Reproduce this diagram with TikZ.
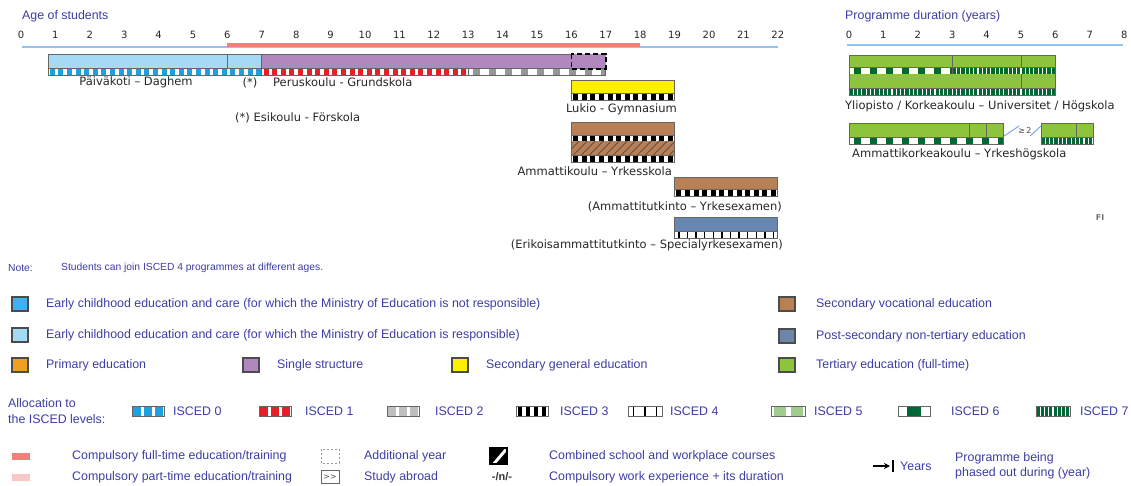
\documentclass[tikz,border=0pt]{standalone}
\usepackage{fontspec}
\setmainfont{Liberation Sans}
\newfontfamily\verd{DejaVu Sans}
\usetikzlibrary{arrows.meta}

\definecolor{txtblue}{RGB}{60,60,165}
\definecolor{axisblue}{RGB}{150,195,235}
\definecolor{compred}{RGB}{240,128,120}
\definecolor{comppink}{RGB}{248,200,200}
\definecolor{ececnot}{RGB}{64,176,240}
\definecolor{ecec}{RGB}{164,218,244}
\definecolor{primary}{RGB}{240,160,32}
\definecolor{single}{RGB}{176,136,190}
\definecolor{secgen}{RGB}{255,240,0}
\definecolor{secvoc}{RGB}{184,128,84}
\definecolor{postsec}{RGB}{104,134,178}
\definecolor{tertiary}{RGB}{140,196,60}
\definecolor{isc0}{RGB}{28,160,224}
\definecolor{isc1}{RGB}{232,30,40}
\definecolor{isc2}{RGB}{150,150,150}
\definecolor{isc5}{RGB}{160,205,140}
\definecolor{isc6}{RGB}{0,104,55}

% age and duration scales (1 unit = 1 px)
\newcommand\ya[1]{21+34.4*#1}
\newcommand\du[1]{849+34.4*#1}

% ISCED strip: left, right, top, bottom, colour, period, block width
\newcommand\isced[7]{%
  \begin{scope}
    \clip ({#1},#3) rectangle ({#2},#4);
    \fill[white] ({#1},#3) rectangle ({#2},#4);
    \pgfmathtruncatemacro\nblk{((#2)-(#1))/(#6)}
    \foreach \k in {0,...,\nblk}
      \fill[#5] ({#1+(\k+0.5)*(#6)-(#7)/2},#3) rectangle ++(#7,{#4-#3});
  \end{scope}
  \draw[edge] ({#1},#3) rectangle ({#2},#4);}

\begin{document}
\begin{tikzpicture}[x=1pt, y=-1pt,
    edge/.style={draw=black!60, line width=0.8pt},
    key/.style={draw=black!70, line width=1.2pt},
    lbl/.style={inner sep=0pt, text=black!85, font=\verd\fontsize{11.5}{13}\selectfont},
    tick/.style={inner sep=0pt, text=black!85, font=\verd\fontsize{10}{12}\selectfont},
    leg/.style={inner sep=0pt, anchor=west, text=txtblue, font=\fontsize{12.4}{14}\selectfont},
    small/.style={inner sep=0pt, anchor=west, text=txtblue, font=\fontsize{10.3}{12}\selectfont}]
  \useasboundingbox (0,0) rectangle (1131,485);

  % Age axis
  \node[leg] (agetitle) at (22,16) {Age of students};
  \foreach \a in {0,...,22}
    \node[tick] (age\a) at ({\ya{\a}},35) {\a};
  \draw[axisblue, line width=1.5pt] (22,47) -- ({\ya{22}},47);
  \draw[compred, line width=3.5pt] ({\ya{6}},45) -- ({\ya{18}},45);

  % Paivakoti + Esikoulu
  \fill[ecec] (48,54) rectangle ({\ya{7}},68);
  \draw[edge] ({\ya{6}},54) -- ({\ya{6}},68);
  \isced{48}{\ya{7}}{68}{75}{isc0}{8.6}{5}
  \draw[edge] (48,54) rectangle ({\ya{7}},75);

  % Peruskoulu
  \fill[single] ({\ya{7}},54) rectangle ({\ya{17}},68);
  \isced{\ya{7}}{\ya{13}}{68}{75}{isc1}{8.6}{5}
  \isced{\ya{13}}{\ya{17}}{68}{75}{isc2}{16}{7}
  \draw[edge] ({\ya{16}},54) -- ({\ya{7}},54) -- ({\ya{7}},75) -- ({\ya{17}},75);
  \draw[black, line width=1.6pt, dash pattern=on 5pt off 3pt] ({\ya{16}},54) rectangle ({\ya{17}},69);

  \node[lbl] (daghem) at (136,82) {Päiväkoti – Daghem};
  \node[lbl] (star) at (250,83) {(*)};
  \node[lbl, anchor=west] (grund) at (273,82) {Peruskoulu - Grundskola};
  \node[lbl, anchor=west] (forskola) at (235,118) {(*) Esikoulu - Förskola};

  % Lukio
  \fill[secgen] ({\ya{16}},80) rectangle ({\ya{19}},93);
  \isced{\ya{16}}{\ya{19}}{93}{100}{black}{8.6}{5}
  \draw[edge] ({\ya{16}},80) rectangle ({\ya{19}},100);
  \node[lbl, anchor=east] (lukio) at (677,109) {Lukio - Gymnasium};

  % Ammattikoulu
  \fill[secvoc] ({\ya{16}},122) rectangle ({\ya{19}},135);
  \isced{\ya{16}}{\ya{19}}{135}{141}{black}{8.6}{5}
  \begin{scope}
    \clip ({\ya{16}},141) rectangle ({\ya{19}},155);
    \fill[secvoc] ({\ya{16}},141) rectangle ({\ya{19}},155);
    \foreach \h in {0,...,14}
      \draw[black!70, line width=0.6pt] ({\ya{16}+\h*8-6},155) -- ++(14,-14);
  \end{scope}
  \isced{\ya{16}}{\ya{19}}{155}{162}{black}{8.6}{5}
  \draw[edge] ({\ya{16}},122) rectangle ({\ya{19}},162);
  \node[lbl, anchor=east] (yrkes) at (672,171) {Ammattikoulu – Yrkesskola};

  % Ammattitutkinto
  \fill[secvoc] ({\ya{19}},177) rectangle ({\ya{22}},189);
  \isced{\ya{19}}{\ya{22}}{189}{196}{black}{8.6}{5}
  \draw[edge] ({\ya{19}},177) rectangle ({\ya{22}},196);
  \node[lbl, anchor=east] (yexam) at (782,207) {(Ammattitutkinto – Yrkesexamen)};

  % Erikoisammattitutkinto
  \fill[postsec] ({\ya{19}},217) rectangle ({\ya{22}},231);
  \isced{\ya{19}}{\ya{22}}{231}{238}{black}{8.6}{1.3}
  \draw[edge] ({\ya{19}},217) rectangle ({\ya{22}},238);
  \node[lbl, anchor=east] (syexam) at (783,245) {(Erikoisammattitutkinto – Specialyrkesexamen)};

  % Programme duration axis
  \node[leg] (durtitle) at (845,16) {Programme duration (years)};
  \foreach \d in {0,...,8}
    \node[tick] (dur\d) at ({\du{\d}},35) {\d};
  \draw[axisblue, line width=1.5pt] (847,45) -- (1123,45);

  % Yliopisto
  \fill[tertiary] ({\du{0}},55) rectangle ({\du{6}},67);
  \draw[edge] ({\du{3}},55) -- ({\du{3}},67) ({\du{5}},55) -- ({\du{5}},67);
  \isced{\du{0}}{\du{3}}{67}{74}{isc6}{16}{7}
  \isced{\du{3}}{\du{6}}{67}{74}{isc6}{4.3}{3.2}
  \fill[tertiary] ({\du{0}},74) rectangle ({\du{6}},88);
  \draw[edge] ({\du{5}},74) -- ({\du{5}},88);
  \isced{\du{0}}{\du{6}}{88}{95}{isc6}{4.3}{3.2}
  \draw[edge] ({\du{0}},55) rectangle ({\du{6}},95);
  \node[lbl, anchor=west] (univ) at (845,106) {Yliopisto / Korkeakoulu – Universitet / Högskola};

  % Ammattikorkeakoulu
  \fill[tertiary] ({\du{0}},123) rectangle ({\du{4.5}},137);
  \draw[edge] ({\du{3.5}},123) -- ({\du{3.5}},137) ({\du{4}},123) -- ({\du{4}},137);
  \isced{\du{0}}{\du{4.5}}{137}{144}{isc6}{16}{7}
  \draw[edge] ({\du{0}},123) rectangle ({\du{4.5}},144);
  \fill[tertiary] (1041,123) rectangle (1093,137);
  \draw[edge] (1076,123) -- (1076,137);
  \isced{1041}{1093}{137}{144}{isc6}{4.3}{3.2}
  \draw[edge] (1041,123) rectangle (1093,144);
  \draw[axisblue!80!blue, line width=0.9pt] (1004,136) -- (1019,126) (1030,136) -- (1041,126);
  \node[inner sep=0pt, text=black!70, font=\verd\fontsize{8}{8}\selectfont] (geq) at (1025,131) {≥\,2};
  \node[lbl, anchor=west] (amk) at (852,154) {Ammattikorkeakoulu – Yrkeshögskola};

  \node[inner sep=0pt, text=black!55, font=\verd\bfseries\fontsize{8}{8}\selectfont] (fi) at (1100,218) {FI};

  % Note
  \node[small] (note) at (8,268) {Note:};
  \node[small] (notetext) at (61,268) {Students can join ISCED 4 programmes at different ages.};

  % Legend: colours
  \filldraw[key, fill=ececnot] (12,297) rectangle (28,311);
  \node[leg] (lececnot) at (46,304) {Early childhood education and care (for which the Ministry of Education is not responsible)};
  \filldraw[key, fill=ecec] (12,328) rectangle (28,342);
  \node[leg] (lecec) at (46,335) {Early childhood education and care (for which the Ministry of Education is responsible)};
  \filldraw[key, fill=primary] (12,358) rectangle (28,372);
  \node[leg] (lprim) at (46,365) {Primary education};
  \filldraw[key, fill=single] (243,358) rectangle (259,372);
  \node[leg] (lsingle) at (277,365) {Single structure};
  \filldraw[key, fill=secgen] (452,358) rectangle (468,372);
  \node[leg] (lsecgen) at (486,365) {Secondary general education};
  \filldraw[key, fill=secvoc] (779,297) rectangle (795,311);
  \node[leg] (lsecvoc) at (816,304) {Secondary vocational education};
  \filldraw[key, fill=postsec!80!gray] (779,329) rectangle (795,343);
  \node[leg] (lpostsec) at (816,336) {Post-secondary non-tertiary education};
  \filldraw[key, fill=tertiary] (779,358) rectangle (795,372);
  \node[leg] (ltert) at (816,365) {Tertiary education (full-time)};

  % Legend: ISCED levels
  \node[leg] (alloc1) at (8,403) {Allocation to};
  \node[leg] (alloc2) at (8,419) {the ISCED levels:};
  \isced{132}{164}{406}{416}{isc0}{10.7}{8}
  \node[leg] (lisc0) at (173,411) {ISCED 0};
  \isced{259}{291}{406}{416}{isc1}{10.7}{8}
  \node[leg] (lisc1) at (305,411) {ISCED 1};
  \isced{387}{419}{406}{416}{black!25}{10.7}{8}
  \node[leg] (lisc2) at (435,411) {ISCED 2};
  \isced{516}{548}{406}{416}{black}{8}{3.5}
  \node[leg] (lisc3) at (560,411) {ISCED 3};
  \isced{628}{662}{406}{416}{black}{11.3}{1.5}
  \node[leg] (lisc4) at (670,411) {ISCED 4};
  \isced{771}{805}{406}{416}{isc5}{17}{12}
  \node[leg] (lisc5) at (814,411) {ISCED 5};
  \isced{898}{930}{406}{416}{isc6}{32}{14}
  \node[leg] (lisc6) at (951,411) {ISCED 6};
  \isced{1036}{1070}{406}{416}{isc6}{4.25}{3.2}
  \node[leg] (lisc7) at (1080,411) {ISCED 7};

  % Legend: other symbols
  \fill[compred] (12,453) rectangle (30,460);
  \node[leg] (lfull) at (72,456) {Compulsory full-time education/training};
  \fill[comppink] (12,474) rectangle (30,481);
  \node[leg] (lpart) at (72,477) {Compulsory part-time education/training};
  \draw[black!40, line width=0.8pt, dash pattern=on 2pt off 2pt] (321,449) rectangle (339,463);
  \node[leg] (laddyear) at (364,456) {Additional year};
  \node[draw=black!60, line width=0.8pt, inner sep=0pt, minimum width=18pt, minimum height=13pt,
        text=black!70, font=\verd\fontsize{8}{8}\selectfont] (abroad) at (330,477) {>>};
  \node[leg] (labroad) at (364,477) {Study abroad};
  \begin{scope}
    \clip (490,448) rectangle (507,464);
    \fill[black] (490,448) rectangle (507,464);
    \draw[white, line width=3pt] (492,466) -- (509,446);
  \end{scope}
  \draw[black, line width=1.5pt] (490,448) rectangle (507,464);
  \node[leg] (lcombined) at (549,456) {Combined school and workplace courses};
  \node[inner sep=0pt, text=black!80, font=\bfseries\fontsize{11}{12}\selectfont] (workexp) at (502,477) {-/n/-};
  \node[leg] (lworkexp) at (549,477) {Compulsory work experience + its duration};
  \draw[-{Stealth[length=6pt,width=6pt]}, line width=1.6pt] (873,466) -- (890,466);
  \draw[line width=2.2pt] (893,460) -- (893,472);
  \node[leg] (lyears) at (900,466) {Years};
  \node[leg] (lphase1) at (955,458) {Programme being};
  \node[leg] (lphase2) at (955,473) {phased out during (year)};
\end{tikzpicture}
\end{document}
